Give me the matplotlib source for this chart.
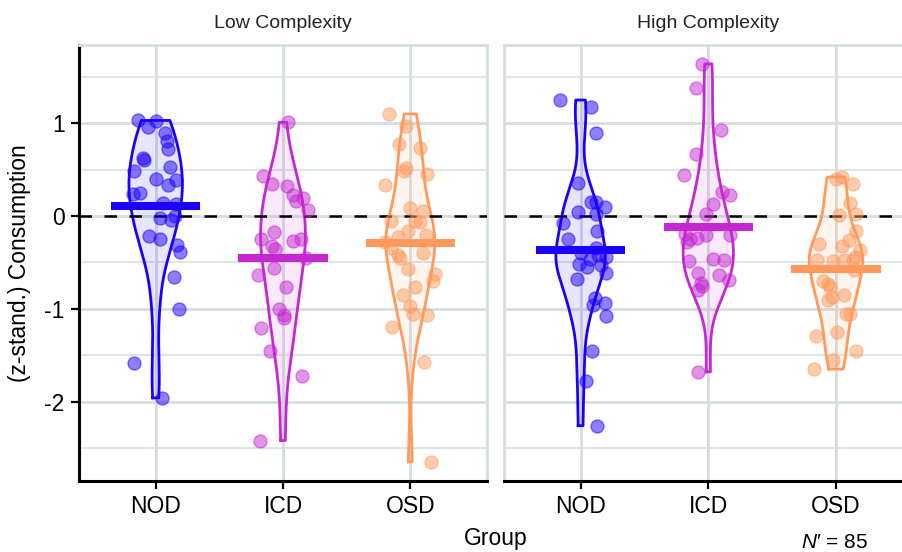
import numpy as np
import matplotlib.pyplot as plt

plt.rcParams['font.family'] = ['Liberation Sans', 'DejaVu Sans']
plt.rcParams['axes.unicode_minus'] = False
plt.rcParams['mathtext.fontset'] = 'custom'
plt.rcParams['mathtext.it'] = 'Liberation Sans:italic'
plt.rcParams['mathtext.rm'] = 'Liberation Sans'

groups = ['NOD', 'ICD', 'OSD']
panels = ['Low Complexity', 'High Complexity']
colors = ['#1C00FF', '#C528D2', '#FF9A5C']
y_ticks = [-2, -1, 0, 1]
y_tick_labels = ['-2', '-1', '0', '1']

# z-standardised consumption per participant, with the horizontal jitter used when plotting
low_nod = [1.03, 0.96, 1.02, 0.89, 0.81, 0.72, 0.62, 0.60, 0.53, 0.48, 0.40, 0.33, 0.39, 0.24,
           0.25, 0.14, 0.13, -0.02, -0.04, 0.00, -0.22, -0.25, -0.31, -0.39, -0.66, -1.00, -1.58, -1.96]
low_nod_jit = [-0.14, -0.06, 0.00, 0.07, 0.09, 0.10, -0.10, -0.09, 0.11, -0.17, 0.00, 0.10, 0.16, -0.18,
               -0.12, 0.06, 0.16, 0.03, 0.12, 0.15, -0.05, 0.03, 0.17, 0.19, 0.14, 0.18, -0.17, 0.05]

low_icd = [1.01, 0.43, 0.34, 0.32, 0.23, 0.165, 0.19, 0.065, -0.17, -0.25, -0.32, -0.36, -0.27, -0.25,
           -0.45, -0.56, -0.64, -0.77, -1.00, -1.07, -1.10, -1.21, -1.46, -1.72, -2.42]
low_icd_jit = [0.04, -0.16, -0.09, 0.03, 0.08, 0.10, 0.16, 0.20, -0.07, -0.17, -0.09, -0.06, 0.08, 0.14,
               0.18, -0.07, -0.20, 0.02, -0.03, 0.01, 0.01, -0.17, -0.10, 0.15, -0.18]

low_osd = [1.10, 0.97, 0.78, 0.73, 0.52, 0.48, 0.45, 0.33, 0.09, 0.05, -0.05, -0.05, -0.07, -0.16,
           -0.21, -0.23, -0.28, -0.35, -0.42, -0.45, -0.40, -0.57, -0.62, -0.70, -0.76, -0.85, -0.97,
           -1.06, -1.07, -1.20, -1.57, -2.65]
low_osd_jit = [-0.17, -0.03, -0.09, 0.08, -0.03, -0.05, 0.13, -0.20, 0.00, 0.10, -0.15, 0.04, 0.08, -0.02,
               0.12, -0.10, -0.20, -0.15, -0.10, -0.08, 0.10, -0.02, 0.19, 0.18, 0.04, -0.06, 0.00,
               0.02, 0.13, -0.14, 0.11, 0.16]

high_nod = [1.25, 1.17, 0.89, 0.36, 0.15, 0.155, 0.10, 0.047, 0.018, -0.08, -0.16, -0.25, -0.35, -0.40,
            -0.46, -0.42, -0.44, -0.52, -0.55, -0.53, -0.61, -0.68, -0.88, -0.96, -0.94, -1.08, -1.45,
            -1.78, -2.26]
high_nod_jit = [-0.16, 0.08, 0.12, -0.02, 0.08, 0.12, 0.19, -0.02, 0.12, -0.14, 0.13, -0.10, 0.12, 0.00,
                0.07, 0.14, 0.20, -0.01, 0.05, 0.16, 0.20, -0.03, 0.11, 0.10, 0.19, 0.20, 0.09,
                0.04, 0.13]

high_icd = [1.64, 1.38, 0.93, 0.67, 0.44, 0.26, 0.23, 0.13, 0.02, -0.19, -0.24, -0.205, -0.205, -0.28,
            -0.49, -0.46, -0.47, -0.61, -0.64, -0.69, -0.75, -0.80, -1.68, -0.25, -0.72]
high_icd_jit = [-0.05, -0.10, 0.10, -0.10, -0.19, 0.11, 0.17, 0.04, -0.02, -0.18, -0.09, -0.02, 0.17, -0.17,
                -0.15, 0.04, 0.12, -0.08, 0.08, 0.16, -0.05, -0.08, -0.08, -0.14, -0.06]

high_osd = [0.40, 0.42, 0.345, 0.137, 0.01, 0.02, -0.16, -0.30, -0.26, -0.32, -0.37, -0.44, -0.47, -0.49,
            -0.475, -0.475, -0.58, -0.70, -0.73, -0.77, -0.87, -0.91, -0.85, -1.06, -1.06, -1.29, -1.25,
            -1.46, -1.55, -1.65]
high_osd_jit = [0.00, 0.05, 0.13, 0.11, 0.02, 0.16, 0.16, -0.13, 0.10, 0.05, 0.19, 0.15, -0.15, -0.02,
                0.06, 0.13, 0.14, -0.10, -0.06, -0.05, -0.03, -0.06, 0.06, 0.08, 0.11, -0.16, 0.01,
                0.16, -0.02, -0.17]

panel_data = [
    [(low_nod, low_nod_jit), (low_icd, low_icd_jit), (low_osd, low_osd_jit)],
    [(high_nod, high_nod_jit), (high_icd, high_icd_jit), (high_osd, high_osd_jit)],
]

grid_col = '#D4DEE0'
max_half_width = 0.21
bar_half_width = 0.35


def bw_nrd0(x):
    # Silverman's rule of thumb, as in R's bw.nrd0
    q75, q25 = np.percentile(x, [75, 25])
    lo = min(np.std(x, ddof=1), (q75 - q25) / 1.34)
    return 0.9 * lo * len(x) ** -0.2


def density(x, grid):
    bw = bw_nrd0(x)
    z = (grid[:, None] - x[None, :]) / bw
    return np.exp(-0.5 * z ** 2).sum(axis=1) / (len(x) * bw * np.sqrt(2 * np.pi))


W, H = 902, 552
fig = plt.figure(figsize=(W / 100, H / 100), dpi=100)


def add_ax(left, right, top, bottom):
    return fig.add_axes([left / W, 1 - bottom / H, (right - left) / W, (bottom - top) / H])


axes = [add_ax(79.3, 486.7, 45, 480.7), add_ax(504, 912.6, 45, 480.7)]

for k, (ax, title) in enumerate(zip(axes, panels)):
    dens = []
    for vals, _ in panel_data[k]:
        v = np.array(vals)
        grid = np.linspace(v.min(), v.max(), 512)
        dens.append((grid, density(v, grid)))
    scale = max_half_width / max(d.max() for _, d in dens)

    for i, ((vals, jit), (grid, d), c) in enumerate(zip(panel_data[k], dens, colors)):
        pos = i + 1
        w = d * scale
        ax.fill_betweenx(grid, pos - w, pos + w, color=c, alpha=0.1, lw=0, zorder=2)
        xs = np.concatenate([pos - w, (pos + w)[::-1], [pos - w[0]]])
        ys = np.concatenate([grid, grid[::-1], [grid[0]]])
        ax.plot(xs, ys, color=c, lw=2.0, zorder=3)
        ax.scatter(pos + np.array(jit), vals, s=88, facecolor=c, edgecolor=c,
                   linewidth=1.0, alpha=0.5, zorder=5)
        ax.plot([pos - bar_half_width, pos + bar_half_width], [np.mean(vals)] * 2,
                color=c, lw=5.8, solid_capstyle='butt', zorder=6)

    ax.axhline(0, color='black', lw=1.8, linestyle=(0, (5, 5)), zorder=4)

    ax.set_xlim(0.4, 3.6)
    ax.set_ylim(-2.853, 1.843)
    ax.set_xticks([1, 2, 3])
    ax.set_xticklabels(groups)
    ax.set_yticks(y_ticks)
    ax.set_yticklabels(y_tick_labels)
    ax.set_yticks([-2.5, -1.5, -0.5, 0.5, 1.5], minor=True)
    ax.grid(which='major', color=grid_col, lw=2.0, zorder=0)
    ax.grid(which='minor', axis='y', color=grid_col, lw=1.1, zorder=0)
    ax.set_axisbelow(True)
    ax.tick_params(which='major', length=6, width=1.6, color='black', labelsize=16.5,
                   labelcolor='black', pad=4.5)
    ax.tick_params(which='minor', length=0)
    ax.set_title(title, fontsize=14, pad=12, color='#222222')

    for side in ['top', 'right', 'left']:
        ax.spines[side].set_color(grid_col)
        ax.spines[side].set_linewidth(2.0)
    ax.spines['bottom'].set_color('black')
    ax.spines['bottom'].set_linewidth(2.2)

axes[0].spines['left'].set_color('black')
axes[0].spines['left'].set_linewidth(2.2)
axes[1].tick_params(axis='y', left=False, labelleft=False)

fig.text(20 / W, 1 - 262.8 / H, '(z-stand.) Consumption', rotation=90,
         ha='center', va='center', fontsize=16.5)
fig.text(496 / W, 1 - 545 / H, 'Group', ha='center', va='baseline', fontsize=16.5)
fig.text(868.3 / W, 1 - 548.3 / H, r"$\mathit{N}$′ = 85", ha='right', va='baseline',
         fontsize=15)

fig.savefig('out.png', dpi=100)
